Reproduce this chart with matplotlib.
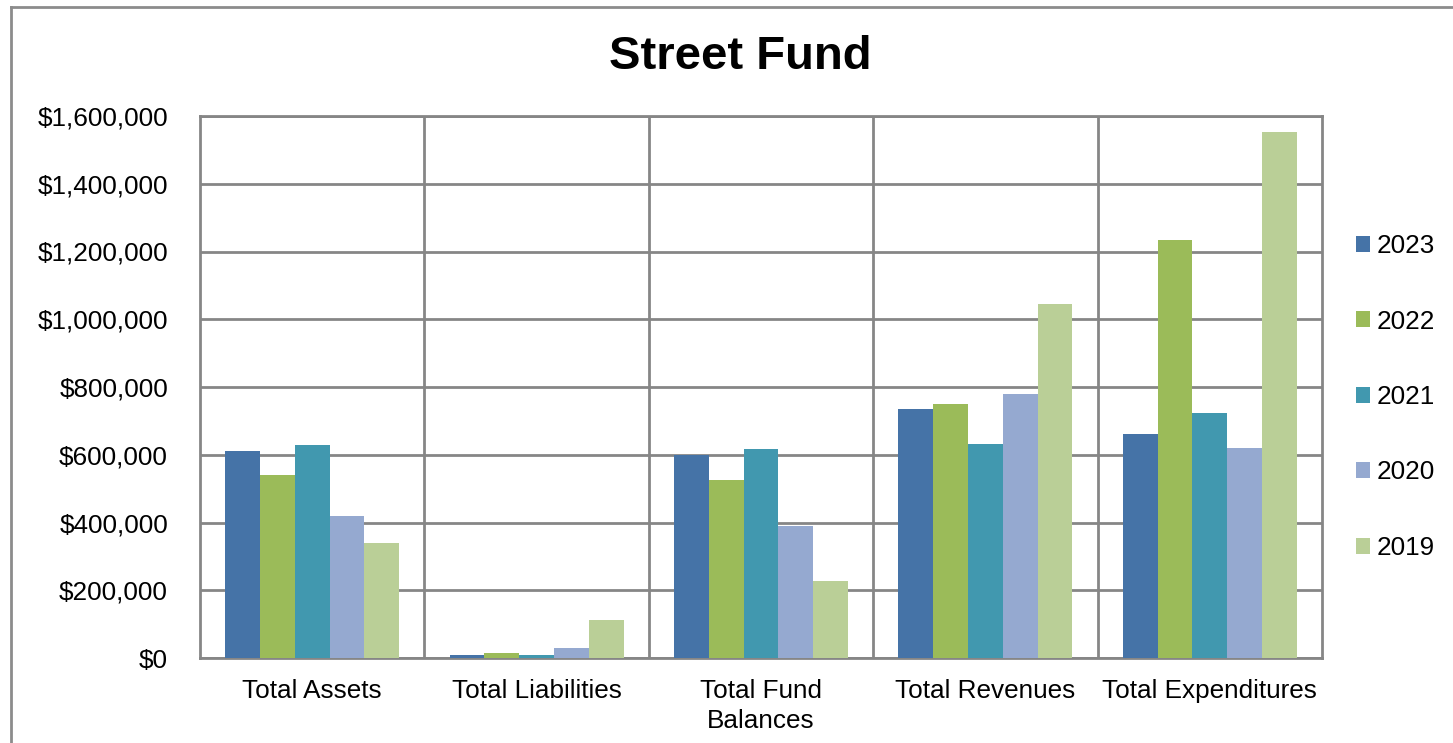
import numpy as np
import matplotlib.pyplot as plt
from matplotlib.ticker import FuncFormatter, MultipleLocator
from matplotlib.lines import Line2D

plt.rcParams['font.family'] = ['Liberation Sans', 'DejaVu Sans']

# Data
categories = ["Total Assets", "Total Liabilities", "Total Fund\nBalances",
              "Total Revenues", "Total Expenditures"]
years = ["2023", "2022", "2021", "2020", "2019"]
v2023 = [611000, 10000, 599000, 734000, 660000]
v2022 = [540000, 14000, 525000, 751000, 1235000]
v2021 = [629000, 10000, 618000, 633000, 722000]
v2020 = [420000, 30000, 389000, 780000, 619000]
v2019 = [339000, 111000, 226000, 1046000, 1554000]
series = [v2023, v2022, v2021, v2020, v2019]
colors = ["#4573A7", "#9BBB59", "#4198AF", "#95A9D0", "#BACF97"]

fig = plt.figure(figsize=(14.53, 7.43), dpi=100)
ax = fig.add_axes([200/1453, 1 - 658/743, 1122/1453, 542/743])

x = np.arange(len(categories))
bw = 0.155
for i, (vals, yr, c) in enumerate(zip(series, years, colors)):
    ax.bar(x + (i - 2) * bw, vals, width=bw, color=c, label=yr, zorder=3)

ax.set_xlim(-0.5, len(categories) - 0.5)
ax.set_ylim(0, 1600000)
ax.yaxis.set_major_locator(MultipleLocator(200000))
ax.yaxis.set_major_formatter(FuncFormatter(lambda v, p: "${:,.0f}".format(v)))
ax.set_xticks(x)
ax.set_xticklabels(categories, fontsize=18.8, linespacing=1.3)
ax.set_xticks(np.arange(0.5, len(categories) - 0.5, 1), minor=True)
ax.tick_params(axis='y', labelsize=18.8, length=0, pad=23)
ax.tick_params(axis='x', which='both', length=0, pad=15)

grid_c = "#868686"
ax.grid(axis='y', which='major', color=grid_c, linewidth=2, zorder=0)
ax.grid(axis='x', which='minor', color=grid_c, linewidth=2, zorder=0)
for s in ax.spines.values():
    s.set_color(grid_c)
    s.set_linewidth(2)

fig.suptitle("Street Fund", x=740/1453, y=1 - 57/743, va='center',
             fontsize=34, fontweight='bold')

ax.legend(loc='center left', bbox_to_anchor=(1356/1453, 1 - 397/743),
          bbox_transform=fig.transFigure, frameon=False, fontsize=18.8,
          handlelength=0.55, handleheight=0.55, handletextpad=0.25,
          labelspacing=1.97, borderaxespad=0, borderpad=0)

# outer chart border
fig.add_artist(Line2D([11/1453, 11/1453], [0, 1 - 7/743], color="#8C8C8C",
                      linewidth=2, transform=fig.transFigure))
fig.add_artist(Line2D([11/1453, 1], [1 - 7/743, 1 - 7/743], color="#8C8C8C",
                      linewidth=2, transform=fig.transFigure))

fig.savefig("out.png", dpi=100)
